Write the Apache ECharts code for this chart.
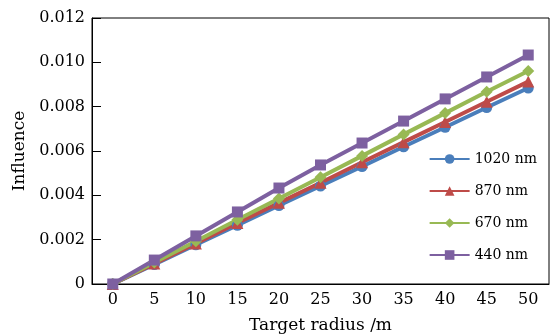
<!DOCTYPE html>
<html>
<head>
<meta charset="utf-8">
<script src="https://cdn.jsdelivr.net/npm/echarts@6/dist/echarts.min.js"></script>
<style>
html, body { margin: 0; padding: 0; background: #fff; }
#chart { width: 552px; height: 336px; }
</style>
</head>
<body>
<div id="chart"></div>
<script>
const radius = ['0', '5', '10', '15', '20', '25', '30', '35', '40', '45', '50'];
const nm1020 = [0, 0.00088, 0.00177, 0.00265, 0.00354, 0.00442, 0.0053, 0.00619, 0.00707, 0.00796, 0.00884];
const nm870 = [0, 0.00092, 0.00183, 0.00275, 0.00366, 0.00457, 0.00549, 0.0064, 0.00731, 0.00822, 0.00913];
const nm670 = [0, 0.00097, 0.00193, 0.0029, 0.00386, 0.00482, 0.00578, 0.00675, 0.00771, 0.00867, 0.00961];
const nm440 = [0, 0.00108, 0.00217, 0.00325, 0.00433, 0.00537, 0.00636, 0.00735, 0.00835, 0.00934, 0.01033];

const font = 'DejaVu Serif';
const chart = echarts.init(document.getElementById('chart'));

function line (name, data, color, symbol, size) {
    return {
        name: name,
        type: 'line',
        data: data,
        symbol: symbol,
        symbolSize: size,
        lineStyle: { color: color, width: 4 },
        itemStyle: { color: color },
        animation: false
    };
}

const option = {
    textStyle: { fontFamily: font },
    grid: {
        left: 92, right: 3, top: 18, bottom: 52,
        outerBoundsMode: 'none',
        containLabel: false,
        show: true, borderColor: '#000', borderWidth: 1
    },
    legend: {
        orient: 'vertical',
        right: 10,
        top: 147,
        itemGap: 18,
        itemWidth: 40,
        itemHeight: 12,
        textStyle: { fontFamily: font, fontSize: 14, color: '#000' },
        data: ['1020 nm', '870 nm', '670 nm', '440 nm']
    },
    xAxis: {
        type: 'category',
        data: radius,
        boundaryGap: true,
        name: 'Target radius /m',
        nameLocation: 'middle',
        nameGap: 33,
        nameTextStyle: { fontFamily: font, fontSize: 17, color: '#000' },
        axisLine: { lineStyle: { color: '#000' } },
        axisTick: { inside: true, alignWithLabel: true, length: 9, lineStyle: { color: '#000' } },
        axisLabel: { fontFamily: font, fontSize: 16, color: '#000', margin: 8 }
    },
    yAxis: {
        type: 'value',
        min: 0,
        max: 0.012,
        interval: 0.002,
        name: 'Influence',
        nameLocation: 'middle',
        nameGap: 64,
        nameTextStyle: { fontFamily: font, fontSize: 17, color: '#000' },
        axisLine: { show: true, lineStyle: { color: '#000' } },
        axisTick: { show: true, inside: true, length: 9, lineStyle: { color: '#000' } },
        splitLine: { show: false },
        axisLabel: {
            fontFamily: font, fontSize: 16, color: '#000', margin: 7,
            formatter: function (v) { return v === 0 ? '0' : v.toFixed(3); }
        }
    },
    series: [
        line('1020 nm', nm1020, '#4a7ebb', 'circle', 11),
        line('870 nm', nm870, '#be4b48', 'triangle', 12),
        line('670 nm', nm670, '#98b954', 'diamond', 12),
        line('440 nm', nm440, '#7d60a0', 'rect', 11)
    ]
};
chart.setOption(option);
</script>
</body>
</html>
